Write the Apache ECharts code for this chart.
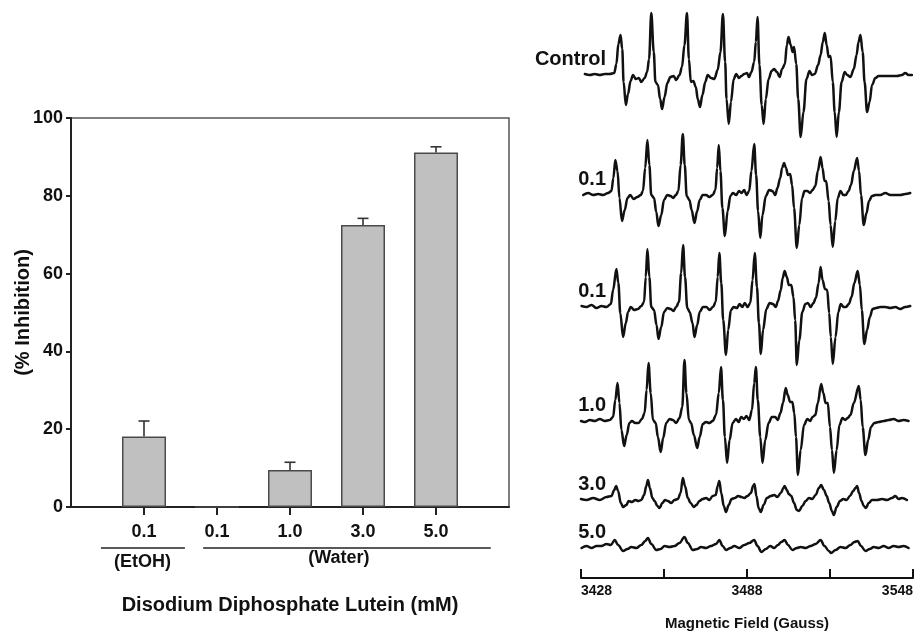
<!DOCTYPE html>
<html>
<head>
<meta charset="utf-8">
<script src="https://cdn.jsdelivr.net/npm/echarts@6/dist/echarts.min.js"></script>
<style>
html,body{margin:0;padding:0;background:#fff;}
#c{width:921px;height:632px;}
</style>
</head>
<body>
<div id="c"></div>
<script>
// ---------------- Data: bar chart ----------------
const concLabels = ['0.1', '0.1', '1.0', '3.0', '5.0'];
const inhibition = [18.1, 0, 9.5, 72.5, 91.1];
const inhibitionErr = [4.0, 0, 2.0, 1.7, 1.5];
const groupNames = ['(EtOH)', '(Water)'];
const yTicks = [0, 20, 40, 60, 80, 100];

// ---------------- Data: EPR spectra [field (G), amplitude] ----------------
const traceLabels = ['Control', '0.1', '0.1', '1.0', '3.0', '5.0'];
const fieldTickLabels = [3428, 3488, 3548];

const traceControl = [[3429.4,0],[3431.2,-1],[3433.0,0],[3434.8,-1],[3436.6,0],[3438.4,0],[3440.0,1],[3440.8,10],[3441.5,30],[3442.3,39],[3442.9,25],[3443.4,-8],[3444.2,-31],[3445.0,-20],[3445.9,-7],[3446.8,-1],[3447.8,-5],[3448.9,-4],[3449.8,-8],[3451.0,-4],[3451.9,2],[3452.6,15],[3453.4,61],[3454.3,22],[3454.9,-8],[3455.8,-11],[3456.6,-25],[3457.3,-35],[3458.2,-23],[3459.2,-9],[3460.3,-3],[3461.5,-2],[3462.4,-6],[3463.6,-1],[3464.5,7],[3465.4,29],[3466.3,61],[3467.0,15],[3467.7,-8],[3468.6,-7],[3469.5,-13],[3470.2,-25],[3471.0,-33],[3471.9,-21],[3472.9,-8],[3473.8,-1],[3475.0,-4],[3476.2,-5],[3477.4,4],[3478.4,22],[3479.3,60],[3480.1,12],[3480.6,-25],[3481.4,-50],[3482.2,-28],[3483.2,-5],[3484.1,0],[3485.1,-4],[3486.0,-2],[3487.0,0],[3488.0,1],[3488.7,-3],[3489.6,2],[3490.6,12],[3491.2,32],[3491.8,57],[3492.5,9],[3493.3,-31],[3494.0,-50],[3494.8,-25],[3495.8,-5],[3496.9,3],[3497.8,5],[3498.8,2],[3499.8,-3],[3500.7,5],[3501.7,10],[3502.4,29],[3503.0,37],[3503.8,29],[3504.5,22],[3505.0,27],[3505.8,10],[3506.5,-25],[3507.4,-63],[3508.4,-38],[3509.5,-5],[3510.6,3],[3511.5,-1],[3512.5,0],[3513.7,9],[3514.6,19],[3515.4,32],[3516.1,41],[3516.8,29],[3517.5,17],[3518.2,18],[3519.0,-8],[3519.7,-38],[3520.4,-63],[3521.2,-38],[3522.2,-8],[3523.3,2],[3524.2,-1],[3525.4,-3],[3526.6,5],[3527.6,19],[3528.3,32],[3529.0,39],[3529.8,22],[3530.5,-8],[3531.4,-38],[3532.3,-28],[3533.2,-11],[3534.4,-4],[3535.6,-2],[3537.4,-2],[3539.8,-2],[3542.2,-2],[3544.0,-1],[3545.2,1],[3546.4,-1],[3547.6,-1]];

const trace01a = [[3428.8,-1],[3430.6,1],[3432.4,-1],[3434.2,0],[3436.0,-1],[3437.8,1],[3439.0,3],[3439.7,16],[3440.4,34],[3441.2,23],[3441.9,-4],[3442.8,-27],[3443.8,-16],[3444.8,-4],[3445.8,-1],[3447.0,-5],[3448.4,-3],[3449.6,-1],[3450.4,3],[3451.2,26],[3452.0,54],[3452.7,29],[3453.4,-1],[3454.4,-4],[3455.2,-18],[3456.0,-32],[3457.0,-21],[3458.0,-6],[3459.2,-1],[3460.4,-2],[3461.3,-4],[3462.3,-1],[3463.2,3],[3464.0,29],[3464.8,60],[3465.5,29],[3466.2,-2],[3467.2,-6],[3468.0,-16],[3469.0,-29],[3470.0,-17],[3470.9,-6],[3472.0,-1],[3473.2,-1],[3474.4,-3],[3475.6,-1],[3476.6,4],[3477.2,26],[3477.8,49],[3478.4,23],[3479.1,-14],[3480.0,-42],[3481.0,-17],[3482.0,-2],[3482.9,1],[3484.1,-1],[3485.1,3],[3486.0,1],[3487.0,4],[3487.8,-1],[3488.8,3],[3489.6,23],[3490.6,50],[3491.3,19],[3492.0,-17],[3492.8,-44],[3493.6,-21],[3494.8,-2],[3496.0,4],[3497.2,3],[3498.2,-1],[3499.0,6],[3500.0,16],[3500.7,26],[3501.4,31],[3502.1,26],[3502.8,19],[3503.6,20],[3504.3,9],[3505.0,-14],[3506.0,-54],[3506.9,-31],[3507.9,-4],[3508.8,3],[3509.8,3],[3510.8,1],[3511.7,4],[3512.7,8],[3513.6,23],[3514.6,37],[3515.3,26],[3516.0,13],[3516.6,13],[3517.5,-7],[3518.2,-31],[3519.0,-53],[3519.9,-27],[3520.8,-4],[3521.8,3],[3522.8,-1],[3523.7,-1],[3524.7,3],[3525.6,9],[3526.6,23],[3527.8,36],[3528.5,23],[3529.2,-1],[3530.2,-31],[3531.2,-19],[3532.1,-7],[3533.2,-2],[3534.4,-1],[3536.2,-1],[3538.0,1],[3539.8,-1],[3541.6,-1],[3543.4,-1],[3545.2,0],[3547.0,1]];

const trace01b = [[3428.2,0],[3430.0,-1],[3431.8,1],[3433.6,-2],[3435.4,0],[3437.2,-1],[3438.8,2],[3439.6,16],[3440.8,37],[3441.5,23],[3442.2,-7],[3443.2,-31],[3444.2,-17],[3445.0,-6],[3446.0,-1],[3447.2,-4],[3448.6,-3],[3449.8,0],[3450.8,4],[3451.4,29],[3452.0,57],[3452.7,29],[3453.4,-1],[3454.4,-4],[3455.3,-19],[3456.0,-33],[3457.0,-21],[3458.0,-6],[3459.2,-2],[3460.4,-3],[3461.4,-5],[3462.4,-1],[3463.4,4],[3464.2,33],[3464.9,61],[3465.6,29],[3466.4,-2],[3467.3,-6],[3468.3,-17],[3469.0,-31],[3470.0,-19],[3470.9,-6],[3472.1,-1],[3473.3,-1],[3474.5,-4],[3475.7,-1],[3476.7,4],[3477.4,29],[3478.0,53],[3478.7,23],[3479.4,-14],[3480.4,-49],[3481.2,-24],[3482.2,-4],[3483.2,-1],[3484.4,-2],[3485.3,2],[3486.3,-1],[3487.2,3],[3488.2,-1],[3489.2,3],[3490.0,26],[3490.8,53],[3491.6,19],[3492.3,-17],[3493.0,-48],[3493.8,-24],[3495.0,-3],[3496.2,3],[3497.4,2],[3498.4,-1],[3499.2,5],[3500.2,16],[3500.9,28],[3501.6,35],[3502.4,29],[3503.1,21],[3504.0,21],[3504.8,9],[3505.4,-14],[3506.0,-59],[3506.9,-34],[3508.0,-6],[3509.1,2],[3510.0,3],[3511.0,-1],[3512.0,3],[3512.9,8],[3513.9,23],[3514.6,39],[3515.3,26],[3516.2,17],[3517.0,16],[3517.7,-7],[3518.3,-31],[3519.0,-58],[3520.0,-31],[3521.0,-6],[3521.9,2],[3522.9,-1],[3523.8,-1],[3524.8,2],[3525.8,9],[3526.8,23],[3528.0,35],[3528.8,21],[3529.5,-4],[3530.4,-38],[3531.4,-24],[3532.4,-11],[3533.4,-3],[3534.6,-2],[3536.2,-1],[3538.0,-1],[3539.8,-2],[3541.6,-1],[3543.4,-3],[3545.2,-1],[3547.0,0]];

const trace10 = [[3428.0,-1],[3429.4,-2],[3431.2,0],[3433.0,-1],[3434.8,1],[3436.6,-1],[3438.4,0],[3439.6,3],[3440.4,20],[3441.2,37],[3441.9,17],[3442.6,-10],[3443.6,-26],[3444.5,-15],[3445.5,-3],[3446.4,-1],[3447.6,-3],[3448.8,-3],[3450.0,1],[3451.0,7],[3451.7,30],[3452.4,57],[3453.2,27],[3454.0,0],[3455.0,-3],[3455.8,-17],[3456.8,-32],[3457.7,-18],[3458.8,-3],[3460.0,1],[3461.2,0],[3462.4,-3],[3463.6,2],[3464.6,13],[3465.4,60],[3466.1,27],[3467.0,0],[3467.8,-3],[3468.8,-15],[3470.0,-28],[3470.9,-17],[3472.0,-4],[3473.2,-2],[3474.4,-3],[3475.6,-1],[3476.8,5],[3477.8,27],[3478.6,53],[3479.3,20],[3480.0,-17],[3480.8,-43],[3481.7,-20],[3482.8,-3],[3484.0,1],[3485.0,-2],[3485.9,3],[3486.9,1],[3487.8,4],[3488.8,0],[3489.8,10],[3490.6,37],[3491.2,53],[3491.9,20],[3492.8,-17],[3493.6,-43],[3494.6,-20],[3495.8,-3],[3497.0,3],[3498.2,3],[3499.1,0],[3500.1,7],[3501.0,17],[3502.0,32],[3502.7,25],[3503.6,18],[3504.4,18],[3505.1,7],[3505.7,-17],[3506.4,-55],[3507.4,-30],[3508.6,-5],[3509.8,1],[3510.8,-1],[3511.7,3],[3512.7,5],[3513.6,17],[3514.8,36],[3515.6,27],[3516.4,17],[3517.2,17],[3518.0,-7],[3518.7,-30],[3519.4,-53],[3520.4,-30],[3521.4,-5],[3522.5,2],[3523.5,0],[3524.4,2],[3525.4,5],[3526.6,17],[3528.4,34],[3529.1,20],[3529.8,-7],[3530.8,-35],[3531.8,-20],[3532.8,-7],[3534.0,-3],[3535.6,-2],[3537.4,-1],[3539.2,0],[3541.0,1],[3542.8,-1],[3544.6,0],[3546.4,-1]];

const trace30 = [[3428.0,0],[3430.0,-1],[3432.4,1],[3434.8,-1],[3437.2,2],[3439.0,3],[3440.0,9],[3440.7,13],[3441.4,8],[3442.4,-4],[3443.2,-8],[3444.4,-6],[3445.2,-2],[3446.4,-3],[3447.6,-1],[3448.8,-2],[3449.8,-1],[3450.8,4],[3451.6,13],[3452.2,19],[3452.9,11],[3453.8,1],[3454.6,-2],[3455.6,-7],[3456.4,-9],[3457.4,-4],[3458.4,-1],[3459.4,-2],[3460.6,-4],[3461.8,-1],[3463.0,0],[3464.0,6],[3464.8,21],[3465.6,13],[3466.6,1],[3467.6,-4],[3468.8,-8],[3469.7,-6],[3470.8,-2],[3472.0,0],[3473.2,1],[3474.4,-1],[3475.6,3],[3476.7,4],[3477.4,13],[3478.0,18],[3478.7,6],[3479.6,-7],[3480.4,-13],[3481.4,-6],[3482.4,0],[3483.6,1],[3484.8,3],[3486.0,2],[3487.0,1],[3488.2,3],[3489.4,6],[3490.2,13],[3490.7,15],[3491.4,3],[3492.2,-9],[3493.0,-13],[3494.0,-6],[3495.2,1],[3496.6,3],[3497.8,4],[3499.0,2],[3500.2,6],[3501.2,11],[3501.6,13],[3502.4,9],[3503.1,5],[3504.0,3],[3505.0,-4],[3506.0,-11],[3506.8,-12],[3508.0,-7],[3509.2,-2],[3510.4,1],[3511.6,0],[3512.8,4],[3514.0,11],[3514.8,14],[3515.8,9],[3516.8,3],[3517.7,-4],[3518.7,-12],[3519.4,-16],[3520.4,-8],[3521.6,-2],[3522.8,0],[3524.0,-1],[3525.2,3],[3526.4,8],[3527.2,11],[3527.8,13],[3528.5,6],[3529.4,-2],[3530.2,-7],[3531.0,-9],[3532.0,-4],[3533.2,-1],[3535.0,-1],[3536.8,0],[3538.6,-1],[3540.4,1],[3541.6,3],[3542.8,0],[3544.0,1],[3545.8,-1]];

const trace50 = [[3428.2,-1],[3430.0,1],[3431.8,-1],[3433.6,1],[3435.4,1],[3437.2,3],[3438.8,2],[3440.2,7],[3441.4,2],[3443.2,-4],[3444.8,-2],[3446.2,0],[3448.0,-1],[3449.8,2],[3451.2,6],[3452.2,9],[3453.4,3],[3455.2,-3],[3456.8,-2],[3458.2,1],[3460.0,0],[3461.8,1],[3463.6,4],[3465.4,10],[3466.6,4],[3468.4,-3],[3470.0,-2],[3471.4,0],[3473.2,-1],[3475.0,1],[3476.8,3],[3478.0,7],[3479.2,1],[3480.4,-3],[3482.0,-1],[3483.4,1],[3485.2,-1],[3487.0,2],[3488.8,4],[3490.6,7],[3491.8,1],[3493.2,-5],[3494.8,-2],[3496.4,1],[3497.8,-1],[3499.2,2],[3500.4,5],[3501.6,7],[3502.8,2],[3504.4,-3],[3506.0,-1],[3507.4,0],[3509.2,-1],[3511.0,1],[3512.8,3],[3514.6,7],[3516.0,1],[3517.6,-4],[3518.4,-6],[3520.0,-3],[3521.8,0],[3523.6,-1],[3525.4,2],[3526.8,5],[3528.0,6],[3529.2,1],[3530.8,-4],[3532.4,-2],[3533.8,0],[3535.6,-1],[3537.4,1],[3539.2,-1],[3541.0,1],[3542.8,0],[3544.6,1],[3546.4,-1]];

const traces = [traceControl, trace01a, trace01b, trace10, trace30, trace50];

// ---------------- Layout ----------------
const FONT = '"Liberation Sans", Arial, Helvetica, sans-serif';
const INK = '#111';
const barGrid = {left: 71, top: 118, width: 438, height: 389};
const nCat = 6;
const unitPx = barGrid.width / nCat;
const traceBaselines = [74, 194, 306, 420, 499, 547];
const traceHalf = 70;
const specLeft = 581, specRight = 8;
const groupSpans = [[0.41, 1.56, 0.98, 562], [1.81, 5.75, 3.67, 558]];
const bracketY = 548;

const categories = ['0', '1', '2', '3', '4', '5', '6'];
const barData = categories.map((c, i) => (i >= 1 && i <= 5) ? inhibition[i - 1] : null);
const errData = inhibition.map((v, i) => [i + 1, v, inhibitionErr[i]]);

const grids = [Object.assign({}, barGrid, {show: true, borderColor: '#555', borderWidth: 1.5, backgroundColor: 'transparent'})];
const xAxes = [{
  gridIndex: 0, type: 'category', data: categories, boundaryGap: false,
  axisLine: {lineStyle: {color: '#222', width: 2}},
  axisTick: {show: true, inside: false, length: 8, lineStyle: {color: '#222', width: 2},
             interval: (i) => i >= 1 && i <= 5},
  axisLabel: {interval: (i) => i >= 1 && i <= 5, formatter: (v, i) => concLabels[i - 1] || '',
              fontFamily: FONT, fontWeight: 'bold', fontSize: 18, color: INK, margin: 16},
  splitLine: {show: false},
  name: 'Disodium Diphosphate Lutein (mM)', nameLocation: 'middle', nameGap: 88, nameMoveOverlap: false,
  nameTextStyle: {fontFamily: FONT, fontWeight: 'bold', fontSize: 20, color: INK}
}];
const yAxes = [{
  gridIndex: 0, type: 'value', min: yTicks[0], max: yTicks[yTicks.length - 1], interval: yTicks[1] - yTicks[0],
  axisLine: {show: true, lineStyle: {color: '#222', width: 2}},
  axisTick: {show: true, length: 5, lineStyle: {color: '#222', width: 2}},
  axisLabel: {fontFamily: FONT, fontWeight: 'bold', fontSize: 18, color: INK, margin: 8},
  splitLine: {show: false},
  name: '(% Inhibition)', nameLocation: 'middle', nameGap: 38, nameRotate: 90, nameMoveOverlap: false,
  nameTextStyle: {fontFamily: FONT, fontWeight: 'bold', fontSize: 20, color: INK}
}];
const series = [{
  type: 'bar', xAxisIndex: 0, yAxisIndex: 0, data: barData, barWidth: 44,
  itemStyle: {color: '#c0c0c0', borderColor: '#4a4a4a', borderWidth: 1.5},
  silent: true, z: 2
}, {
  type: 'custom', xAxisIndex: 0, yAxisIndex: 0, data: errData, z: 3, silent: true,
  renderItem: function (params, api) {
    const x = api.value(0), y = api.value(1), e = api.value(2);
    if (!e) return null;
    const p0 = api.coord([x, y]);
    const p1 = api.coord([x, y + e]);
    const st = {stroke: '#333', lineWidth: 1.6};
    return {type: 'group', children: [
      {type: 'line', shape: {x1: p0[0], y1: p0[1], x2: p1[0], y2: p1[1]}, style: st},
      {type: 'line', shape: {x1: p1[0] - 5.5, y1: p1[1], x2: p1[0] + 5.5, y2: p1[1]}, style: st}
    ]};
  }
}];

traces.forEach((tr, k) => {
  const gi = k + 1;
  grids.push({left: specLeft, right: specRight, top: traceBaselines[k] - traceHalf, height: 2 * traceHalf});
  xAxes.push({gridIndex: gi, type: 'value', min: 3428, max: 3548, show: false});
  yAxes.push({gridIndex: gi, type: 'value', min: -traceHalf, max: traceHalf, show: false});
  series.push({
    type: 'line', xAxisIndex: gi, yAxisIndex: gi, data: tr, symbol: 'none', showSymbol: false,
    smooth: 0.35, smoothMonotone: 'x',
    lineStyle: {color: '#111', width: 2.5, join: 'round', cap: 'round'}, silent: true, clip: false
  });
});

// bottom field axis
const axGi = grids.length;
grids.push({left: specLeft, right: specRight, top: 570, height: 8});
xAxes.push({
  gridIndex: axGi, type: 'value', min: fieldTickLabels[0], max: fieldTickLabels[fieldTickLabels.length - 1], interval: 30,
  axisLine: {show: true, lineStyle: {color: '#111', width: 2}},
  axisTick: {show: true, inside: true, length: 9, lineStyle: {color: '#111', width: 2}},
  axisLabel: {formatter: (v) => fieldTickLabels.indexOf(v) >= 0 ? String(v) : '',
              fontFamily: FONT, fontWeight: 'bold', fontSize: 14, color: INK, margin: 6,
              alignMinLabel: 'left', alignMaxLabel: 'right'},
  splitLine: {show: false},
  name: 'Magnetic Field (Gauss)', nameLocation: 'middle', nameGap: 38, nameMoveOverlap: false,
  nameTextStyle: {fontFamily: FONT, fontWeight: 'bold', fontSize: 15, color: INK}
});
yAxes.push({gridIndex: axGi, type: 'value', min: 0, max: 1, show: false});

// graphics: group brackets and trace labels
const graphic = [];
groupNames.forEach((g, i) => {
  const s = groupSpans[i];
  graphic.push({type: 'line', silent: true,
    shape: {x1: barGrid.left + s[0] * unitPx, y1: bracketY, x2: barGrid.left + s[1] * unitPx, y2: bracketY},
    style: {stroke: '#222', lineWidth: 1.6}});
  graphic.push({type: 'text', silent: true, x: barGrid.left + s[2] * unitPx, y: s[3],
    style: {text: g, font: 'bold 18px ' + FONT, fill: INK, textAlign: 'center', textVerticalAlign: 'middle'}});
});
traceLabels.forEach((t, k) => {
  graphic.push({type: 'text', silent: true, x: 606, y: traceBaselines[k] - 15,
    style: {text: t, font: 'bold 20px ' + FONT, fill: INK, textAlign: 'right', textVerticalAlign: 'middle'}});
});

const chart = echarts.init(document.getElementById('c'), null, {renderer: 'canvas'});
chart.setOption({
  animation: false,
  backgroundColor: '#fff',
  textStyle: {fontFamily: FONT},
  grid: grids, xAxis: xAxes, yAxis: yAxes, series: series, graphic: graphic
});
</script>
</body>
</html>
